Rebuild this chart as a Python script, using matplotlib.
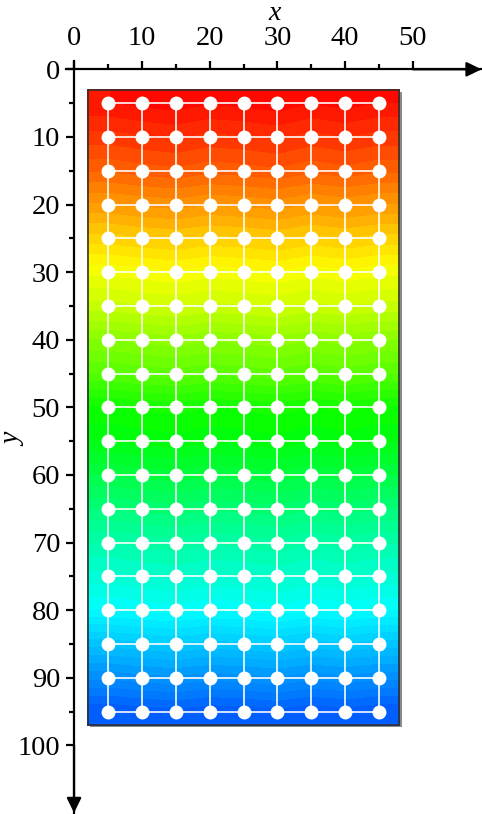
import numpy as np
import matplotlib
matplotlib.use('Agg')
import matplotlib.pyplot as plt
from matplotlib.colors import LinearSegmentedColormap
from matplotlib.patches import Rectangle

# ---------------- data ----------------
x_nodes = [5, 10, 15, 20, 25, 30, 35, 40, 45]
y_nodes = [5, 10, 15, 20, 25, 30, 35, 40, 45, 50, 55, 60, 65, 70, 75, 80, 85, 90, 95]
# field value (colour position 0=red ... 1=blue) read for each row of nodes
row_values = [0.01, 0.05, 0.09, 0.145, 0.20, 0.255, 0.30, 0.36, 0.41, 0.48,
              0.51, 0.56, 0.61, 0.66, 0.70, 0.745, 0.82, 0.89, 0.96]
# small column-wise deviations (wavy contour bands)
col_offsets = [0.006, 0.000, -0.004, 0.003, 0.000, -0.005, 0.004, -0.002, 0.005]
domain_x = [2, 48]
domain_y = [3, 97]
x_ticks = [0, 10, 20, 30, 40, 50]
x_minor = [5, 15, 25, 35, 45]
y_ticks = [0, 10, 20, 30, 40, 50, 60, 70, 80, 90, 100]
y_minor = [5, 15, 25, 35, 45, 55, 65, 75, 85, 95]

plt.rcParams['font.family'] = ['Liberation Serif', 'DejaVu Serif']

cmap = LinearSegmentedColormap.from_list(
    'field', [(0.0, (1, 0, 0)), (0.25, (1, 1, 0)), (0.5, (0, 1, 0)),
              (0.75, (0, 1, 1)), (1.0, (0, 0.25, 1))])

fig = plt.figure(figsize=(4.82, 8.14), dpi=100)
ax = fig.add_axes([65.9 / 482, 1 - 812.9 / 814, (481.5 - 65.9) / 482, (812.9 - 61.2) / 814])
ax.set_xlim(-1.2, 60.1)
ax.set_ylim(110, -1.2)

Z = np.array(row_values)[:, None] + np.array(col_offsets)[None, :]
Z = np.clip(Z, 0.0, 1.0)
Xe = np.concatenate([[domain_x[0]], x_nodes, [domain_x[1]]])
Ye = np.concatenate([[domain_y[0]], y_nodes, [domain_y[1]]])
Ze = np.pad(Z, 1, mode='edge')

# shadow and field
ax.add_patch(Rectangle((domain_x[0] + 0.35, domain_y[0] + 0.35), domain_x[1] - domain_x[0],
                       domain_y[1] - domain_y[0], color='#8a8a8a', zorder=0.5, lw=0))
ax.contourf(Xe, Ye, Ze, levels=np.linspace(-0.001, 1.001, 61), cmap=cmap, zorder=1)
ax.add_patch(Rectangle((domain_x[0], domain_y[0]), domain_x[1] - domain_x[0],
                       domain_y[1] - domain_y[0], fill=False, ec='#303030', lw=1.2, zorder=3))

# mesh lines
for yv in y_nodes:
    ax.plot([x_nodes[0], x_nodes[-1]], [yv, yv], color='white', lw=1.3, alpha=0.9, zorder=4)
for xv in x_nodes:
    ax.plot([xv, xv], [y_nodes[0], y_nodes[-1]], color='white', lw=1.3, alpha=0.9, zorder=4)
XX, YY = np.meshgrid(x_nodes, y_nodes)
ax.plot(XX.ravel(), YY.ravel(), 'o', color='white', ms=9, mec='white', zorder=5)

# axes
for s in ['right', 'bottom']:
    ax.spines[s].set_visible(False)
ax.spines['top'].set_position(('data', 0))
ax.spines['left'].set_position(('data', 0))
for s in ['top', 'left']:
    ax.spines[s].set_linewidth(1.6)
ax.xaxis.tick_top()
ax.yaxis.tick_left()
ax.set_xticks(x_ticks)
ax.set_xticks(x_minor, minor=True)
ax.set_yticks(y_ticks)
ax.set_yticks(y_minor, minor=True)
ax.tick_params(which='major', direction='out', length=6, width=1.6, labelsize=20.5)
ax.tick_params(which='minor', direction='out', length=3.5, width=1.6)
ax.tick_params(axis='x', which='major', pad=7)
ax.tick_params(axis='y', which='major', pad=4)
ax.patch.set_visible(False)

arrow = dict(arrowstyle='-|>,head_length=0.45,head_width=0.22', color='black', lw=1.6,
             mutation_scale=20, shrinkA=0, shrinkB=0)
ax.annotate('', xy=(60.1, 0), xytext=(50, 0), arrowprops=arrow, annotation_clip=False)
ax.annotate('', xy=(0, 110), xytext=(0, 100), arrowprops=arrow, annotation_clip=False)

fig.text(275 / 482, 1 - 20 / 814, 'x', fontsize=20, style='italic', ha='center', va='baseline')
fig.text(14 / 482, 1 - 440 / 814, 'y', fontsize=20, style='italic', ha='center', va='center',
         rotation=90)

fig.savefig('out.png', dpi=100)
